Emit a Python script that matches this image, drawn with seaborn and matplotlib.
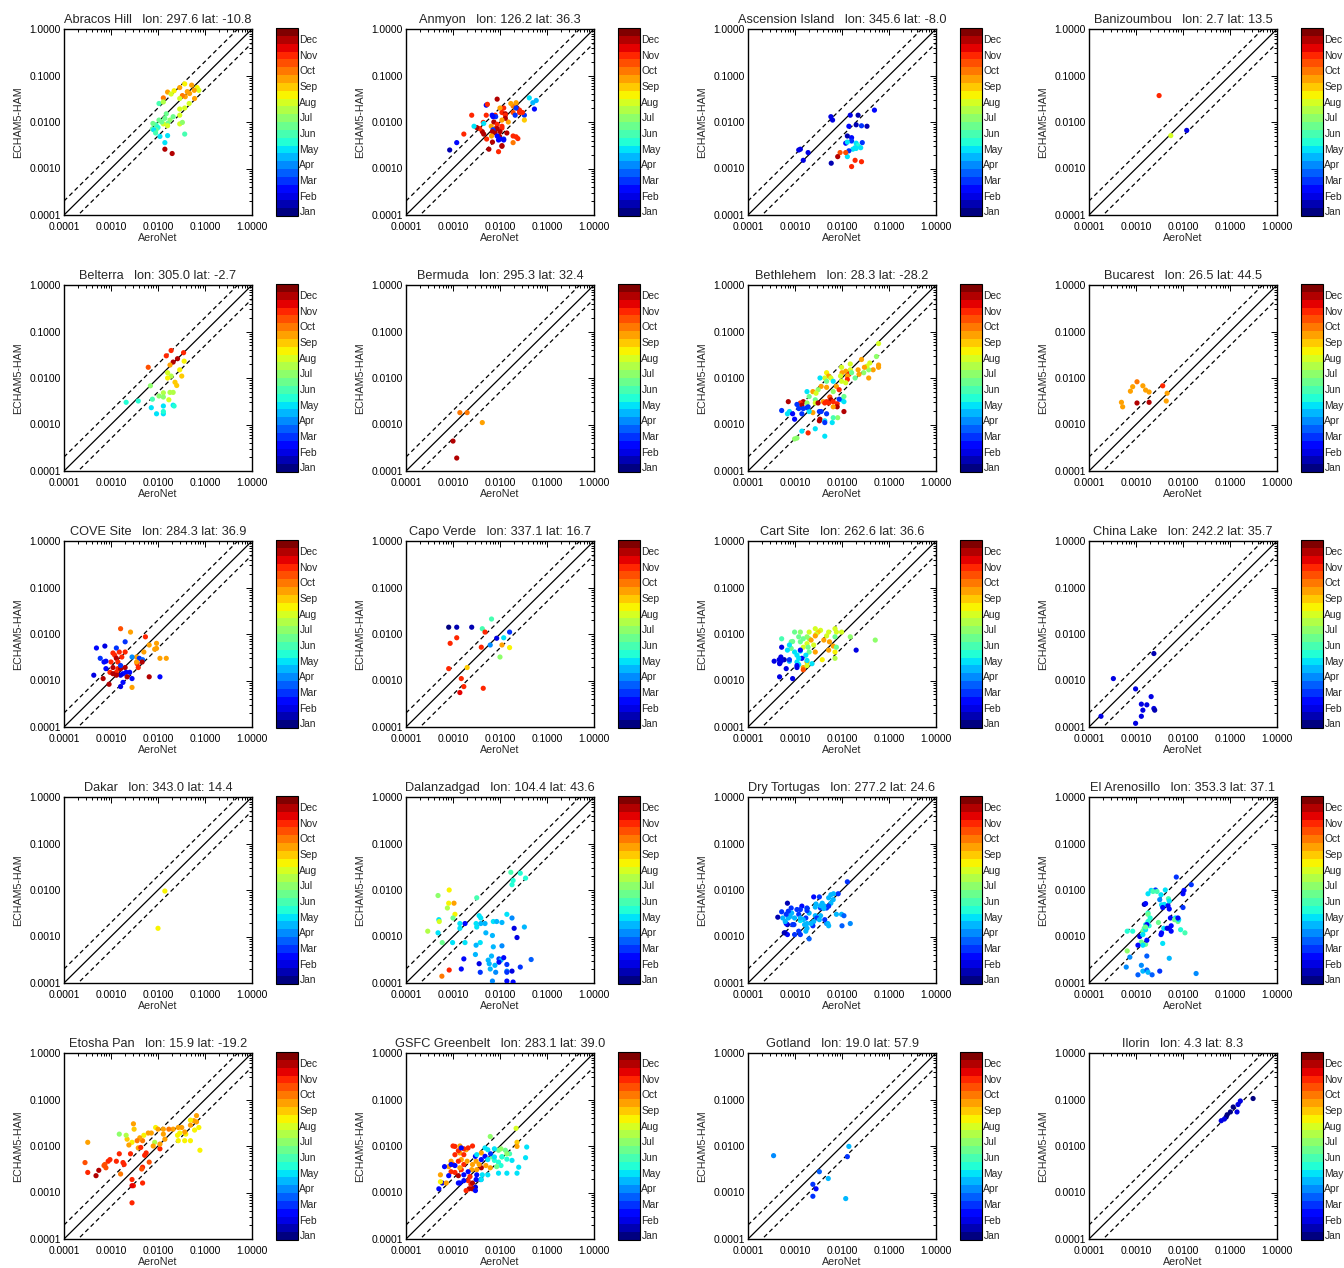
import numpy as np
import pandas as pd
import matplotlib
matplotlib.use("Agg")
import matplotlib.pyplot as plt
import seaborn as sns
from matplotlib.colors import Normalize
from matplotlib.cm import ScalarMappable
from matplotlib.ticker import FixedLocator, FormatStrFormatter, LogLocator, NullFormatter

sns.set_style("white")
plt.rcParams['font.family'] = ['Liberation Sans', 'DejaVu Sans']

# Station info
site_names = ['Abracos Hill', 'Anmyon', 'Ascension Island', 'Banizoumbou',
              'Belterra', 'Bermuda', 'Bethlehem', 'Bucarest',
              'COVE Site', 'Capo Verde', 'Cart Site', 'China Lake',
              'Dakar', 'Dalanzadgad', 'Dry Tortugas', 'El Arenosillo',
              'Etosha Pan', 'GSFC Greenbelt', 'Gotland', 'Ilorin']
site_lon = [297.6, 126.2, 345.6, 2.7, 305.0, 295.3, 28.3, 26.5, 284.3, 337.1,
            262.6, 242.2, 343.0, 104.4, 277.2, 353.3, 15.9, 283.1, 19.0, 4.3]
site_lat = [-10.8, 36.3, -8.0, 13.5, -2.7, 32.4, -28.2, 44.5, 36.9, 16.7,
            36.6, 35.7, 14.4, 43.6, 24.6, 37.1, -19.2, 39.0, 57.9, 8.3]
month_labels = ['Jan', 'Feb', 'Mar', 'Apr', 'May', 'Jun',
                'Jul', 'Aug', 'Sep', 'Oct', 'Nov', 'Dec']

# ---- per-station data: AeroNet (x), ECHAM5-HAM (y), month (colour) ----
abracos_x = [1.6e-2, 2.9e-2, 3.7e-2, 5.2e-2, 6.8e-2, 7.4e-2, 5.9e-2, 4.7e-2, 3.8e-2, 3.3e-2,
             4.2e-2, 2.2e-2, 1.9e-2, 1.3e-2, 1.05e-2, 1.3e-2, 2.9e-2, 4.6e-2, 3.7e-2, 2.9e-2,
             6.0e-2, 2.9e-2, 1.5e-2, 1.4e-2, 1.8e-2, 2.1e-2, 1.6e-2, 1.3e-2, 1.2e-2, 9.1e-3,
             7.6e-3, 7.8e-3, 1.05e-2, 1.0e-2, 9.1e-3, 2.9e-2, 3.3e-2, 1.6e-2, 8.1e-3, 1.1e-2,
             8.9e-3, 1.6e-2, 1.4e-2, 3.7e-2, 1.4e-2, 2.0e-2]
abracos_y = [4.4e-2, 5.5e-2, 6.6e-2, 6.2e-2, 5.5e-2, 4.8e-2, 4.8e-2, 4.1e-2, 3.5e-2, 3.7e-2,
             4.5e-2, 4.7e-2, 4.0e-2, 3.3e-2, 2.5e-2, 2.7e-2, 3.2e-2, 2.5e-2, 2.0e-2, 1.9e-2,
             3.2e-2, 1.4e-2, 1.5e-2, 1.2e-2, 1.1e-2, 1.3e-2, 9.3e-3, 9.1e-3, 1.0e-2, 8.7e-3,
             7.1e-3, 9.3e-3, 1.1e-2, 7.6e-3, 6.8e-3, 9.1e-3, 9.8e-3, 8.3e-3, 6.8e-3, 4.9e-3,
             5.8e-3, 5.1e-3, 3.6e-3, 5.5e-3, 2.6e-3, 2.1e-3]
abracos_m = [9.5, 9.5, 8.5, 9.5, 8.5, 8, 9.5, 9.5, 9.5, 10,
             9.5, 8.5, 8, 10, 6, 7.5, 8, 8, 8, 8,
             9.5, 8, 6.5, 6.5, 7, 6.5, 6.5, 8, 6.5, 6,
             6.5, 6.5, 6.5, 5.5, 6.5, 8, 7, 8, 5, 5,
             6, 5, 5, 6, 12, 12]

anmyon_x = [4.2e-2, 5.9e-2, 5.0e-2, 5.4e-2, 3.3e-2, 3.3e-2, 3.0e-2, 2.6e-2, 2.3e-2, 2.6e-2,
            1.9e-2, 1.7e-2, 2.2e-2, 1.9e-2, 2.2e-2, 2.1e-2, 1.5e-2, 1.9e-2, 2.2e-2, 1.9e-2,
            2.4e-2, 1.4e-2, 1.2e-2, 1.0e-2, 1.1e-2, 1.3e-2, 1.3e-2, 1.3e-2, 1.1e-2, 1.1e-2,
            1.1e-2, 1.0e-2, 9.8e-3, 1.2e-2, 1.1e-2, 8.7e-3, 7.9e-3, 8.1e-3, 7.1e-3, 7.4e-3,
            8.7e-3, 8.3e-3, 7.8e-3, 8.7e-3, 8.7e-3, 9.3e-3, 1.0e-2, 1.2e-2, 9.3e-3, 1.1e-2,
            6.5e-3, 7.1e-3, 6.8e-3, 5.1e-3, 5.4e-3, 5.1e-3, 4.4e-3, 4.5e-3, 5.2e-3, 6.9e-3,
            6.6e-3, 6.9e-3, 5.8e-3, 4.2e-3, 3.7e-3, 3.2e-3, 2.5e-3, 2.8e-3, 1.7e-3, 1.2e-3,
            8.5e-4, 4.5e-3]
anmyon_y = [3.3e-2, 2.9e-2, 2.6e-2, 1.9e-2, 1.4e-2, 1.1e-2, 1.6e-2, 1.6e-2, 2.0e-2, 1.8e-2,
            2.2e-2, 2.5e-2, 2.6e-2, 1.6e-2, 2.0e-2, 1.4e-2, 1.0e-2, 5.0e-3, 4.8e-3, 3.6e-3,
            4.4e-3, 5.8e-3, 2.0e-2, 2.0e-2, 1.6e-2, 1.5e-2, 1.4e-2, 1.2e-2, 1.1e-2, 8.1e-3,
            7.4e-3, 6.2e-3, 4.9e-3, 4.3e-3, 3.1e-3, 3.1e-2, 1.4e-2, 1.3e-2, 1.3e-2, 1.0e-2,
            8.9e-3, 7.2e-3, 5.9e-3, 7.2e-3, 5.0e-3, 4.1e-3, 4.3e-3, 4.1e-3, 2.3e-3, 3.0e-3,
            8.1e-3, 6.8e-3, 1.4e-2, 2.3e-2, 2.4e-2, 1.4e-2, 9.8e-3, 5.5e-3, 4.3e-3, 6.2e-3,
            5.0e-3, 3.7e-3, 2.6e-3, 6.2e-3, 7.2e-3, 7.6e-3, 1.4e-2, 8.1e-3, 5.5e-3, 3.6e-3,
            2.5e-3, 9.3e-3]
anmyon_m = [5, 4.5, 4.5, 2.5, 3, 9, 11, 11, 12, 11,
            10, 9.5, 9.5, 10.5, 3, 3, 9.5, 11, 11, 10,
            11, 12, 11, 9.5, 11, 12, 11, 12, 9.5, 11,
            11, 12, 12, 3, 12, 12, 11, 3, 2.5, 12,
            11, 11, 12, 12, 2.5, 2.5, 2.5, 2.5, 11, 12,
            9.5, 3, 2.5, 2.5, 11, 11, 11, 12, 11, 12,
            9.5, 12, 12, 12, 11, 12, 11, 5, 11, 2.5,
            1.5, 5]

ascension_x = [4.9e-2, 1.5e-2, 2.2e-2, 1.4e-2, 2.0e-2, 2.6e-2, 3.4e-2, 1.3e-2, 1.6e-2, 1.6e-2,
               1.2e-2, 2.7e-2, 1.3e-2, 2.0e-2, 2.2e-2, 1.9e-2, 1.7e-2, 2.0e-2, 2.5e-2, 1.4e-2,
               1.3e-2, 1.2e-2, 9.1e-3, 8.1e-3, 1.9e-2, 2.6e-2, 1.6e-2, 5.9e-3, 5.8e-3, 6.3e-3,
               1.9e-3, 1.3e-3, 1.2e-3, 1.5e-3]
ascension_y = [1.8e-2, 1.4e-2, 1.4e-2, 8.1e-3, 8.7e-3, 8.3e-3, 8.1e-3, 5.0e-3, 4.6e-3, 3.9e-3,
               3.5e-3, 3.6e-3, 3.7e-3, 3.5e-3, 3.1e-3, 2.8e-3, 2.6e-3, 2.7e-3, 2.8e-3, 2.4e-3,
               1.8e-3, 2.2e-3, 2.2e-3, 1.8e-3, 1.5e-3, 1.4e-3, 1.1e-3, 1.3e-3, 1.3e-2, 1.1e-2,
               2.2e-3, 2.6e-3, 2.5e-3, 1.5e-3]
ascension_m = [2.5, 2, 1.5, 2.5, 1.5, 3, 1.5, 1.5, 2.5, 3,
               2.5, 3, 5, 5, 5.5, 5, 5, 5, 5, 3,
               5, 10.5, 10.5, 12, 11, 11, 11, 1.5, 2, 2,
               2, 2, 2, 2]

banizoumbou_x = [3.1e-3, 5.5e-3, 1.2e-2]
banizoumbou_y = [3.7e-2, 5.1e-3, 6.6e-3]
banizoumbou_m = [11, 8, 2]

belterra_x = [6.2e-3, 1.5e-2, 1.9e-2, 2.6e-2, 3.5e-2, 2.1e-2, 1.8e-2, 3.6e-2, 2.9e-2, 1.6e-2,
              1.9e-2, 1.6e-2, 3.2e-2, 2.3e-2, 2.5e-2, 6.9e-3, 1.3e-2, 1.8e-2, 2.1e-2, 1.05e-2,
              7.6e-3, 1.7e-2, 1.3e-2, 2.1e-3, 3.8e-3, 7.2e-3, 1.3e-2, 2.1e-2, 2.2e-2, 9.3e-3,
              1.3e-2, 1.3e-2]
belterra_y = [1.7e-2, 3.0e-2, 3.9e-2, 2.6e-2, 3.5e-2, 2.2e-2, 1.9e-2, 2.3e-2, 1.5e-2, 1.3e-2,
              1.1e-2, 1.0e-2, 1.1e-2, 8.1e-3, 6.9e-3, 6.8e-3, 4.8e-3, 4.9e-3, 4.9e-3, 4.1e-3,
              3.5e-3, 3.4e-3, 3.9e-3, 3.0e-3, 3.2e-3, 2.3e-3, 2.5e-3, 2.6e-3, 2.5e-3, 1.7e-3,
              1.7e-3, 1.9e-3]
belterra_m = [10.5, 11, 11, 12, 11, 12, 9.5, 8.5, 8.5, 8,
              7.5, 8.5, 9, 9, 9, 7, 7.5, 7.5, 7.5, 7,
              6, 8, 7, 5.5, 5.5, 5, 5, 5, 5.5, 5,
              5, 5.5]

bermuda_x = [1.4e-3, 2.0e-3, 4.2e-3, 1.0e-3, 1.2e-3]
bermuda_y = [1.8e-3, 1.8e-3, 1.1e-3, 4.4e-4, 1.9e-4]
bermuda_m = [10, 10, 9.5, 12, 12]

bethlehem_x = [6.0e-2, 5.4e-2, 6.0e-2, 6.0e-2, 4.6e-2, 3.9e-2, 3.7e-2, 2.6e-2, 3.4e-2, 3.0e-2,
               3.7e-2, 2.9e-2, 2.2e-2, 2.3e-2, 1.5e-2, 1.5e-2, 1.2e-2, 1.4e-2, 1.3e-2, 1.3e-2,
               1.2e-2, 1.6e-2, 1.9e-2, 9.8e-3, 1.0e-2, 9.3e-3, 9.8e-3, 7.6e-3, 8.7e-3, 6.5e-3,
               5.5e-3, 4.7e-3, 5.2e-3, 4.3e-3, 5.8e-3, 3.4e-3, 4.7e-3, 6.5e-3, 3.6e-3, 4.7e-3,
               3.1e-3, 2.4e-3, 2.8e-3, 1.8e-3, 2.0e-3, 2.7e-3, 1.5e-3, 1.3e-3, 1.8e-3, 2.7e-3,
               4.0e-3, 4.7e-3, 5.8e-3, 5.2e-3, 4.3e-3, 6.5e-3, 7.9e-3, 9.8e-3, 1.1e-2, 8.7e-3,
               1.1e-2, 7.9e-3, 1.1e-2, 3.1e-3, 3.3e-3, 3.6e-3, 4.7e-3, 3.4e-3, 3.3e-3, 2.4e-3,
               4.3e-3, 6.2e-3, 8.1e-3, 6.5e-3, 4.3e-3, 1.4e-3, 1.8e-3, 1.5e-3, 1.2e-3, 7.6e-4,
               5.2e-4, 7.2e-4, 8.9e-4, 9.8e-4, 6.9e-4, 1.4e-3, 2.0e-3, 1.9e-3, 1.1e-3, 1.4e-3,
               1.9e-3, 2.7e-3, 4.3e-3, 9.8e-4, 1.1e-3, 6.5e-3]
bethlehem_y = [5.5e-2, 2.9e-2, 1.9e-2, 1.7e-2, 1.5e-2, 2.1e-2, 1.5e-2, 2.5e-2, 1.8e-2, 1.7e-2,
               1.0e-2, 1.3e-2, 1.5e-2, 1.2e-2, 2.0e-2, 1.5e-2, 1.4e-2, 1.2e-2, 1.1e-2, 9.3e-3,
               7.9e-3, 1.3e-2, 1.0e-2, 1.7e-2, 1.3e-2, 1.1e-2, 8.5e-3, 6.6e-3, 5.6e-3, 5.1e-3,
               3.9e-3, 1.3e-2, 1.1e-2, 1.0e-2, 1.0e-2, 1.0e-2, 8.5e-3, 8.5e-3, 6.6e-3, 6.3e-3,
               5.6e-3, 5.1e-3, 4.7e-3, 5.1e-3, 4.0e-3, 3.4e-3, 3.1e-3, 2.9e-3, 2.9e-3, 2.9e-3,
               3.1e-3, 3.1e-3, 3.4e-3, 2.9e-3, 2.9e-3, 3.1e-3, 2.8e-3, 3.4e-3, 3.1e-3, 3.5e-3,
               4.0e-3, 2.4e-3, 1.9e-3, 2.9e-3, 1.9e-3, 1.9e-3, 1.7e-3, 1.3e-3, 1.2e-3, 1.8e-3,
               1.2e-3, 1.1e-3, 1.4e-3, 1.4e-3, 1.1e-3, 2.6e-3, 2.3e-3, 2.2e-3, 2.2e-3, 1.9e-3,
               2.0e-3, 3.1e-3, 1.7e-3, 1.3e-3, 1.7e-3, 1.7e-3, 1.9e-3, 2.4e-3, 2.7e-3, 7.2e-4,
               6.6e-4, 8.1e-4, 5.6e-4, 4.9e-4, 5.1e-4, 2.4e-3]
bethlehem_m = [8, 7, 9.5, 9.5, 9.5, 8, 7, 9.5, 8, 9.5,
               9.5, 7, 9.5, 9.5, 8, 8, 9.5, 11, 9.5, 11,
               8, 6.5, 6.5, 8, 9.5, 8, 8, 9.5, 11, 7,
               10.5, 8.5, 9.5, 8, 8, 5, 6.5, 5, 9.5, 9.5,
               7, 9.5, 8, 5, 6.5, 6.5, 12, 11, 7, 8,
               9.5, 11, 12, 11, 11, 11, 11, 5, 5, 3,
               6.5, 12, 12, 12, 3, 3, 3, 12, 12, 9.5,
               5, 5, 7, 6, 3, 12, 3, 3, 3, 5,
               3, 12, 2.5, 2.5, 5, 3, 5, 3, 3, 5,
               11, 5, 5, 7, 7, 9.5]

bucarest_x = [4.9e-4, 5.2e-4, 7.6e-4, 8.5e-4, 1.05e-3, 1.4e-3, 1.6e-3, 1.9e-3, 1.05e-3, 1.9e-3,
              3.7e-3, 4.6e-3, 4.4e-3]
bucarest_y = [3.0e-3, 2.4e-3, 5.2e-3, 6.5e-3, 8.3e-3, 6.8e-3, 5.5e-3, 5.0e-3, 2.9e-3, 3.0e-3,
              6.8e-3, 4.7e-3, 3.2e-3]
bucarest_m = [9.5, 9.5, 9.5, 9.5, 10, 9.5, 9.5, 9.5, 12, 12, 11, 9.5, 9.5]

cove_x = [1.6e-3, 2.6e-3, 5.4e-3, 6.5e-3, 9.3e-3, 9.3e-3, 8.5e-3, 1.1e-2, 1.5e-2, 5.0e-3,
          3.5e-3, 2.8e-3, 2.0e-3, 2.0e-3, 1.7e-3, 1.5e-3, 1.1e-3, 1.2e-3, 1.3e-3, 1.0e-3,
          1.4e-3, 1.1e-3, 1.4e-3, 1.6e-3, 1.3e-3, 2.0e-3, 2.1e-3, 1.8e-3, 1.6e-3, 2.5e-3,
          2.2e-3, 2.8e-3, 9.5e-4, 1.1e-3, 1.3e-3, 1.3e-3, 1.6e-3, 7.8e-4, 7.1e-4, 7.8e-4,
          5.9e-4, 4.9e-4, 7.4e-4, 4.3e-4, 6.8e-4, 9.1e-4, 1.8e-3, 1.6e-3, 2.8e-3, 4.0e-3,
          3.6e-3, 3.5e-3, 4.7e-3, 3.8e-3, 4.6e-3, 6.5e-3, 1.1e-2]
cove_y = [1.3e-2, 1.1e-2, 8.7e-3, 5.8e-3, 6.3e-3, 4.9e-3, 4.7e-3, 3.0e-3, 3.0e-3, 4.1e-3,
          3.2e-3, 3.2e-3, 6.8e-3, 4.1e-3, 3.2e-3, 4.1e-3, 3.9e-3, 3.5e-3, 3.0e-3, 2.5e-3,
          2.5e-3, 1.9e-3, 1.8e-3, 1.8e-3, 1.5e-3, 1.9e-3, 1.5e-3, 1.4e-3, 1.3e-3, 1.5e-3,
          1.2e-3, 1.1e-3, 1.5e-3, 1.4e-3, 1.3e-3, 5.0e-3, 2.1e-3, 1.8e-3, 2.5e-3, 2.6e-3,
          3.0e-3, 5.0e-3, 5.5e-3, 1.3e-3, 1.1e-3, 8.3e-4, 9.1e-4, 7.4e-4, 7.1e-4, 3.0e-3,
          2.3e-3, 2.5e-3, 2.8e-3, 1.9e-3, 2.5e-3, 1.2e-3, 1.2e-3]
cove_m = [10.5, 9.5, 11, 9.5, 9.5, 9.5, 9.5, 9.5, 9.5, 9.5,
          9.5, 4, 3, 11, 11, 11, 11, 11, 12, 11,
          11, 12, 11, 12, 11, 12, 2.5, 2.5, 2, 2.5,
          12, 2.5, 11, 12, 12, 3, 3, 2.5, 2.5, 2.5,
          3, 2.5, 2, 2, 12, 12, 2.5, 2, 9.5, 3,
          11, 9.5, 3.5, 11, 12, 12, 2.5]

capoverde_x = [8.1e-4, 1.2e-3, 2.5e-3, 6.6e-3, 4.2e-3, 4.8e-3, 8.7e-4, 1.2e-3, 4.0e-3, 8.5e-3,
               6.2e-3, 1.2e-2, 1.6e-2, 1.1e-2, 1.6e-2, 1.0e-2, 2.0e-3, 8.1e-4, 1.5e-3, 1.7e-3,
               1.4e-3, 4.4e-3]
capoverde_y = [1.4e-2, 1.4e-2, 1.4e-2, 2.1e-2, 1.3e-2, 1.1e-2, 6.3e-3, 8.3e-3, 5.2e-3, 8.1e-3,
               5.8e-3, 8.3e-3, 1.1e-2, 5.8e-3, 5.1e-3, 3.2e-3, 1.9e-3, 1.8e-3, 1.1e-3, 7.4e-4,
               5.5e-4, 6.8e-4]
capoverde_m = [1, 1.5, 1.5, 6, 6, 11, 11, 11, 11, 2,
               4, 5, 3, 9.5, 8.5, 7, 9, 11, 11, 11,
               11.5, 11]

cart_x = [5.1e-2, 2.0e-2, 1.5e-2, 9.8e-3, 7.1e-3, 7.6e-3, 7.1e-3, 5.2e-3, 4.7e-3, 4.1e-3,
          5.4e-3, 6.5e-3, 5.2e-3, 3.8e-3, 7.1e-3, 7.1e-3, 7.6e-3, 3.5e-3, 3.1e-3, 2.7e-3,
          2.0e-3, 2.8e-3, 2.0e-3, 2.7e-3, 1.8e-3, 1.5e-3, 2.2e-3, 1.3e-3, 9.8e-4, 1.2e-3,
          8.9e-4, 1.3e-3, 1.8e-3, 1.5e-3, 1.9e-3, 2.5e-3, 2.7e-3, 2.0e-3, 1.7e-3, 1.3e-3,
          9.8e-4, 8.3e-4, 8.3e-4, 7.6e-4, 6.9e-4, 5.2e-4, 1.1e-3, 1.3e-3, 1.4e-3, 1.2e-3,
          1.1e-3, 1.2e-3, 1.5e-3, 1.8e-3, 1.8e-3, 1.5e-3, 2.3e-3, 1.8e-3, 1.1e-3, 1.1e-3,
          7.6e-4, 7.6e-4, 5.2e-4, 5.0e-4, 5.9e-4, 5.2e-4, 4.6e-4, 3.6e-4, 4.8e-4, 4.7e-4,
          6.5e-4, 4.7e-4, 8.9e-4]
cart_y = [7.4e-3, 4.5e-3, 8.7e-3, 1.1e-2, 1.3e-2, 1.1e-2, 8.7e-3, 1.1e-2, 9.1e-3, 7.4e-3,
          6.8e-3, 5.5e-3, 4.5e-3, 2.8e-3, 4.1e-3, 3.0e-3, 5.2e-3, 1.2e-2, 1.1e-2, 1.3e-2,
          1.1e-2, 9.8e-3, 7.9e-3, 9.1e-3, 8.7e-3, 7.9e-3, 7.4e-3, 1.1e-2, 1.1e-2, 8.7e-3,
          6.9e-3, 6.8e-3, 6.2e-3, 5.2e-3, 5.2e-3, 5.8e-3, 4.1e-3, 4.1e-3, 3.5e-3, 4.3e-3,
          4.1e-3, 4.9e-3, 6.8e-3, 5.8e-3, 4.5e-3, 7.9e-3, 3.5e-3, 4.5e-3, 3.0e-3, 3.0e-3,
          2.5e-3, 2.2e-3, 1.9e-3, 2.5e-3, 2.1e-3, 1.7e-3, 2.3e-3, 2.7e-3, 2.1e-3, 1.9e-3,
          2.6e-3, 2.8e-3, 5.2e-3, 3.2e-3, 2.8e-3, 2.7e-3, 2.8e-3, 2.6e-3, 2.4e-3, 2.3e-3,
          1.8e-3, 1.2e-3, 1.1e-3]
cart_m = [7, 2, 7, 8, 8, 8, 6.5, 8, 8, 9.5,
          9.5, 9.5, 9.5, 8.5, 8.5, 7.5, 6.5, 8, 9, 8,
          8, 8, 7, 9.5, 7, 6.5, 9.5, 7, 6.5, 6.5,
          6.5, 6.5, 8, 8, 6.5, 8, 9.5, 6.5, 5, 5,
          5, 6.5, 6.5, 5, 5, 6, 5, 2.5, 2.5, 5,
          5, 5, 9.5, 9.5, 8, 10.5, 5, 5, 2.5, 2,
          4.5, 3, 2, 2, 1.5, 2, 2, 2, 2, 2,
          2, 2, 2]

chinalake_x = [2.4e-3, 3.3e-4, 9.8e-4, 2.1e-3, 1.3e-3, 1.7e-3, 1.4e-3, 2.4e-3, 2.5e-3, 1.3e-3,
               9.8e-4, 1.8e-4]
chinalake_y = [3.8e-3, 1.1e-3, 6.6e-4, 4.5e-4, 3.1e-4, 3.0e-4, 2.3e-4, 2.5e-4, 2.3e-4, 1.7e-4,
               1.2e-4, 1.7e-4]
chinalake_m = [1.5, 2, 2, 2, 2, 2, 2, 2, 1.5, 2, 2, 2]

dakar_x = [1.4e-2, 1.0e-2]
dakar_y = [9.5e-3, 1.5e-3]
dakar_m = [8.5, 8.5]

dalanzadgad_x = [1.7e-2, 2.7e-2, 3.5e-2, 1.9e-2, 1.8e-2, 3.2e-3, 8.3e-4, 4.8e-4, 1.05e-3, 8.1e-4,
                 7.6e-4, 1.1e-3, 1.0e-3, 5.0e-4, 5.1e-4, 1.4e-3, 2.9e-4, 4.8e-4, 5.9e-4, 9.8e-4,
                 1.8e-3, 1.8e-3, 3.1e-3, 3.6e-3, 3.9e-3, 3.9e-3, 4.8e-3, 3.2e-3, 7.2e-3, 8.5e-3,
                 1.4e-2, 1.8e-2, 2.0e-2, 1.1e-2, 3.3e-2, 2.3e-2, 5.0e-3, 6.9e-3, 3.8e-3, 3.1e-3,
                 7.2e-3, 1.1e-2, 1.7e-3, 3.0e-3, 6.6e-3, 5.6e-3, 9.5e-3, 1.05e-2, 9.5e-3, 1.2e-2,
                 3.6e-3, 5.9e-3, 7.8e-3, 1.4e-2, 2.7e-2, 4.6e-2, 1.5e-3, 3.8e-3, 6.2e-3, 8.1e-3,
                 1.4e-2, 1.4e-2, 1.8e-2, 6.9e-3, 1.4e-2, 1.9e-2, 8.3e-4, 5.8e-4, 1.4e-3]
dalanzadgad_y = [2.4e-2, 2.3e-2, 1.8e-2, 1.6e-2, 1.3e-2, 6.8e-3, 1.0e-2, 7.6e-3, 5.2e-3, 5.2e-3,
                 4.1e-3, 3.0e-3, 2.5e-3, 2.3e-3, 2.1e-3, 1.5e-3, 1.3e-3, 1.2e-3, 7.4e-4, 7.4e-4,
                 1.9e-3, 7.4e-4, 1.9e-3, 2.8e-3, 2.5e-3, 1.9e-3, 1.9e-3, 1.6e-3, 2.1e-3, 2.1e-3,
                 3.0e-3, 2.5e-3, 1.5e-3, 2.0e-3, 1.6e-3, 9.5e-4, 1.2e-3, 1.05e-3, 7.4e-4, 6.5e-4,
                 6.0e-4, 6.3e-4, 3.3e-4, 4.1e-4, 3.8e-4, 3.1e-4, 3.3e-4, 3.1e-4, 2.8e-4, 3.5e-4,
                 2.6e-4, 2.6e-4, 2.4e-4, 2.5e-4, 2.2e-4, 3.2e-4, 2.0e-4, 1.7e-4, 2.0e-4, 1.7e-4,
                 1.8e-4, 1.7e-4, 1.8e-4, 1.1e-4, 1.1e-4, 1.05e-4, 1.9e-4, 1.4e-4, 1.9e-3]
dalanzadgad_m = [6, 5.5, 5.5, 5.5, 5.5, 6, 8.5, 7, 9.5, 8.5,
                 7.5, 8.5, 6.5, 5, 8, 5, 7.5, 5, 6.5, 5,
                 2.5, 5, 5, 5, 5, 4.5, 4.5, 5, 5, 4.5,
                 5, 4, 2, 4.5, 4.5, 2, 4.5, 4.5, 5, 4.5,
                 4.5, 4, 2.5, 4.5, 4.5, 4.5, 3, 4.5, 2.5, 2.5,
                 2, 4.5, 4.5, 3, 3, 3.5, 2.5, 3, 4.5, 4,
                 4, 3, 2, 4, 2.5, 2.5, 11, 10, 5]

drytortugas_x = [1.3e-2, 8.3e-3, 6.6e-3, 5.8e-3, 5.2e-3, 6.5e-3, 9.8e-3, 1.1e-2, 1.5e-2, 1.0e-2,
                 4.7e-3, 4.3e-3, 4.7e-3, 5.2e-3, 4.3e-3, 3.5e-3, 2.5e-3, 3.3e-3, 3.5e-3, 2.7e-3,
                 2.7e-3, 2.9e-3, 3.3e-3, 2.5e-3, 2.4e-3, 2.2e-3, 1.8e-3, 2.0e-3, 1.8e-3, 1.7e-3,
                 1.5e-3, 1.3e-3, 1.6e-3, 1.8e-3, 1.7e-3, 1.3e-3, 2.0e-3, 1.8e-3, 1.8e-3, 1.4e-3,
                 1.3e-3, 1.2e-3, 1.3e-3, 9.8e-4, 1.1e-3, 8.3e-4, 8.5e-4, 7.9e-4, 7.2e-4, 6.5e-4,
                 5.5e-4, 5.2e-4, 7.2e-4, 6.9e-4, 9.5e-4, 9.8e-4, 1.2e-3, 8.9e-4, 6.9e-4, 6.5e-4,
                 6.2e-4, 6.9e-4, 5.9e-4, 4.3e-4, 6.2e-4, 2.8e-3, 3.5e-3, 3.8e-3, 5.8e-3, 5.2e-3,
                 7.6e-3, 5.0e-3, 4.1e-3]
drytortugas_y = [1.5e-2, 8.3e-3, 8.3e-3, 7.9e-3, 6.8e-3, 6.2e-3, 3.0e-3, 2.8e-3, 1.9e-3, 1.7e-3,
                 4.1e-3, 4.5e-3, 1.9e-3, 1.7e-3, 2.3e-3, 2.8e-3, 7.1e-3, 7.1e-3, 4.1e-3, 4.3e-3,
                 2.8e-3, 2.5e-3, 2.3e-3, 2.1e-3, 1.7e-3, 1.9e-3, 1.9e-3, 3.2e-3, 4.0e-3, 2.5e-3,
                 2.3e-3, 2.2e-3, 1.8e-3, 1.5e-3, 1.3e-3, 1.1e-3, 8.9e-4, 4.1e-3, 3.6e-3, 4.5e-3,
                 3.8e-3, 3.0e-3, 2.5e-3, 2.5e-3, 3.8e-3, 4.1e-3, 3.2e-3, 2.7e-3, 2.5e-3, 3.0e-3,
                 2.5e-3, 3.4e-3, 3.5e-3, 5.2e-3, 1.8e-3, 1.1e-3, 1.3e-3, 1.8e-3, 1.8e-3, 1.9e-3,
                 1.2e-3, 1.1e-3, 1.2e-3, 2.6e-3, 2.1e-3, 5.0e-3, 4.6e-3, 5.2e-3, 5.2e-3, 4.5e-3,
                 3.0e-3, 1.9e-3, 4.0e-3]
drytortugas_m = [3, 3, 4.5, 4.5, 4.5, 4.5, 4.5, 3.5, 4, 3.5,
                 3, 4.5, 4, 4.5, 3, 4.5, 2.5, 3, 3, 4.5,
                 4.5, 3, 4.5, 4.5, 3, 4.5, 4.5, 4.5, 4.5, 3,
                 4.5, 5, 4.5, 4.5, 4.5, 3, 3.5, 3, 3, 2.5,
                 3, 3, 4.5, 4.5, 3, 3, 4.5, 4.5, 4.5, 3,
                 4.5, 3, 3, 1.5, 3, 3, 3, 3, 1.5, 2.5,
                 2.5, 2.5, 1.5, 1.5, 4.5, 4.5, 4.5, 4.5, 4.5, 3,
                 4.5, 4.5, 4.5]

arenosillo_x = [7.2e-3, 1.5e-2, 1.05e-2, 1.0e-2, 2.6e-3, 4.2e-3, 3.4e-3, 3.2e-3, 4.9e-3, 4.0e-3,
                3.5e-3, 3.7e-3, 4.8e-3, 5.1e-3, 5.4e-3, 6.9e-3, 6.6e-3, 7.8e-3, 8.1e-3, 5.6e-3,
                5.1e-3, 3.5e-3, 3.9e-3, 4.6e-3, 5.6e-3, 3.4e-3, 3.7e-3, 8.9e-3, 1.1e-2, 2.1e-3,
                2.3e-3, 1.8e-3, 1.5e-3, 1.6e-3, 1.8e-3, 1.8e-3, 2.0e-3, 1.8e-3, 1.6e-3, 1.5e-3,
                1.4e-3, 1.6e-3, 1.9e-3, 1.7e-3, 1.6e-3, 1.2e-3, 1.4e-3, 1.3e-3, 1.6e-3, 1.4e-3,
                1.7e-3, 1.1e-3, 8.5e-4, 6.5e-4, 6.5e-4, 7.4e-4, 6.2e-4, 1.3e-3, 1.4e-3, 1.1e-3,
                1.7e-3, 1.8e-3, 2.2e-3, 3.2e-3, 1.7e-3, 3.0e-3, 5.1e-3, 1.9e-2, 1.0e-2, 2.8e-3,
                5.1e-3, 7.8e-3]
arenosillo_y = [1.9e-2, 1.3e-2, 9.8e-3, 8.3e-3, 1.0e-2, 1.0e-2, 7.9e-3, 6.2e-3, 6.5e-3, 4.9e-3,
                4.8e-3, 4.2e-3, 4.6e-3, 3.9e-3, 2.5e-3, 2.5e-3, 2.3e-3, 2.1e-3, 2.3e-3, 1.7e-3,
                1.5e-3, 1.2e-3, 1.5e-3, 1.5e-3, 1.3e-3, 1.1e-3, 7.1e-4, 1.4e-3, 1.2e-3, 9.8e-3,
                9.3e-3, 8.3e-3, 4.9e-3, 5.1e-3, 3.2e-3, 3.0e-3, 2.5e-3, 2.1e-3, 1.8e-3, 1.5e-3,
                1.3e-3, 1.4e-3, 1.7e-3, 1.8e-3, 1.6e-3, 1.0e-3, 1.1e-3, 7.6e-4, 6.8e-4, 6.5e-4,
                8.3e-4, 6.5e-4, 1.3e-3, 1.3e-3, 4.9e-4, 3.6e-4, 2.2e-4, 2.4e-4, 1.8e-4, 1.5e-4,
                1.9e-4, 1.7e-4, 1.5e-4, 1.8e-4, 3.8e-4, 2.0e-3, 3.4e-4, 1.6e-4, 4.2e-3, 9.3e-3,
                5.8e-3, 2.5e-3]
arenosillo_m = [3, 3, 2.5, 2.5, 3, 5, 5, 4, 6, 5,
                5, 2.5, 2.5, 2.5, 2.5, 5, 6.5, 6.5, 5, 2.5,
                2.5, 2.5, 5, 2, 2.5, 2.5, 5, 5.5, 6, 5,
                6, 5, 1.5, 2.5, 5.5, 6.5, 5.5, 5.5, 5.5, 6,
                6.5, 5, 5.5, 2.5, 6.5, 2, 5, 6.5, 6.5, 5,
                2.5, 2.5, 5.5, 5.5, 7, 4, 4, 4, 4.5, 3.5,
                3.5, 4.5, 3.5, 3, 3.5, 6.5, 4.5, 4, 3, 6,
                5, 2.5]

etosha_x = [6.6e-2, 5.8e-2, 4.9e-2, 6.6e-2, 4.9e-2, 7.4e-2, 6.0e-2, 3.9e-2, 3.2e-2, 3.7e-2,
            2.7e-2, 2.1e-2, 2.6e-2, 3.7e-2, 2.7e-2, 1.3e-2, 1.4e-2, 1.3e-2, 1.7e-2, 8.9e-3,
            1.0e-2, 7.2e-3, 6.2e-3, 5.0e-3, 4.7e-3, 4.1e-3, 8.5e-3, 1.1e-2, 7.9e-3, 1.1e-2,
            3.0e-3, 3.1e-3, 2.8e-3, 2.2e-3, 2.4e-3, 1.5e-3, 2.1e-3, 3.8e-3, 3.6e-3, 4.3e-3,
            5.6e-3, 5.2e-3, 6.5e-3, 2.6e-3, 4.7e-3, 4.5e-3, 1.5e-3, 1.3e-3, 9.5e-4, 8.7e-4,
            7.4e-4, 7.1e-4, 7.8e-4, 5.5e-4, 4.8e-4, 3.2e-4, 2.8e-4, 3.2e-4, 1.8e-3, 1.9e-3,
            1.6e-3, 2.8e-3, 3.0e-3, 2.8e-3, 4.7e-3, 2.8e-3, 7.8e-2, 4.9e-2, 2.9e-2]
etosha_y = [4.5e-2, 3.5e-2, 3.6e-2, 3.3e-2, 2.8e-2, 2.5e-2, 2.2e-2, 1.8e-2, 2.5e-2, 2.0e-2,
            2.5e-2, 2.3e-2, 1.7e-2, 1.3e-2, 1.3e-2, 1.8e-2, 1.4e-2, 2.3e-2, 2.3e-2, 2.5e-2,
            2.3e-2, 1.9e-2, 1.9e-2, 1.7e-2, 1.3e-2, 1.5e-2, 1.2e-2, 8.7e-3, 1.0e-2, 1.1e-2,
            3.0e-2, 2.3e-2, 1.2e-2, 1.4e-2, 1.05e-2, 1.8e-2, 1.7e-2, 9.1e-3, 1.3e-2, 9.3e-3,
            7.1e-3, 6.3e-3, 4.5e-3, 6.8e-3, 3.5e-3, 3.2e-3, 6.8e-3, 4.7e-3, 5.1e-3, 4.7e-3,
            4.0e-3, 3.8e-3, 3.4e-3, 3.0e-3, 2.3e-3, 2.7e-3, 4.4e-3, 1.2e-2, 4.4e-3, 4.0e-3,
            2.5e-3, 1.9e-3, 1.4e-3, 1.4e-3, 1.6e-3, 6.0e-4, 8.1e-3, 1.3e-2, 1.9e-2]
etosha_m = [9.5, 9.5, 8.5, 9.5, 9.5, 8.5, 8.5, 8.5, 9.5, 9.5,
            9.5, 9.5, 8.5, 8.5, 8.5, 9.5, 9.5, 9.5, 10, 8.5,
            9.5, 9.5, 9.5, 8.5, 10, 9.5, 7.5, 11, 9.5, 9.5,
            9.5, 9, 8.5, 9, 9.5, 7, 7.5, 9.5, 10, 11,
            11, 11, 10.5, 11, 11, 10.5, 11, 11, 11, 11,
            10.5, 10.5, 10.5, 12, 12, 11, 10.5, 9.5, 11, 11,
            10, 11, 11, 11.5, 11, 11, 8.5, 8.5, 8.5]

gsfc_x = [2.2e-2, 6.2e-3, 3.7e-2, 2.3e-2, 2.3e-2, 3.5e-2, 2.3e-2, 2.5e-2, 1.8e-2, 1.4e-2,
          1.6e-2, 1.3e-2, 1.4e-2, 1.1e-2, 9.3e-3, 1.05e-2, 8.5e-3, 7.6e-3, 6.8e-3, 9.3e-3,
          1.05e-2, 7.6e-3, 5.5e-3, 4.8e-3, 4.0e-3, 6.3e-3, 4.8e-3, 5.5e-3, 6.2e-3, 5.0e-3,
          4.0e-3, 3.2e-3, 3.6e-3, 3.1e-3, 3.0e-3, 3.2e-3, 4.0e-3, 2.6e-3, 2.5e-3, 2.1e-3,
          2.3e-3, 2.1e-3, 2.4e-3, 2.6e-3, 3.0e-3, 3.2e-3, 4.2e-3, 3.9e-3, 3.1e-3, 2.6e-3,
          2.2e-3, 1.9e-3, 3.0e-3, 1.7e-3, 1.4e-3, 1.7e-3, 1.5e-3, 1.4e-3, 1.1e-3, 1.3e-3,
          1.7e-3, 2.0e-3, 1.5e-3, 1.3e-3, 1.0e-3, 9.1e-4, 8.1e-4, 9.1e-4, 1.1e-3, 1.4e-3,
          1.7e-3, 1.9e-3, 1.7e-3, 1.3e-3, 1.0e-3, 1.1e-3, 1.4e-3, 2.6e-3, 2.1e-3, 1.5e-3,
          1.1e-3, 9.1e-4, 6.6e-4, 8.1e-4, 5.9e-4, 1.3e-3, 7.2e-4, 5.4e-4, 5.4e-4, 5.0e-4,
          4.0e-3, 5.5e-3, 9.3e-3, 1.4e-2, 7.6e-3, 1.1e-2]
gsfc_y = [2.4e-2, 1.6e-2, 9.5e-3, 1.2e-2, 9.8e-3, 5.6e-3, 2.6e-3, 3.5e-3, 4.9e-3, 5.2e-3,
          6.8e-3, 8.1e-3, 6.8e-3, 5.8e-3, 4.5e-3, 3.8e-3, 3.6e-3, 4.9e-3, 5.8e-3, 8.1e-3,
          8.7e-3, 8.7e-3, 8.3e-3, 9.1e-3, 7.1e-3, 6.8e-3, 6.0e-3, 5.1e-3, 3.4e-3, 3.8e-3,
          3.4e-3, 3.1e-3, 4.0e-3, 4.7e-3, 6.0e-3, 6.5e-3, 5.1e-3, 4.0e-3, 3.1e-3, 2.8e-3,
          2.2e-3, 1.8e-3, 1.5e-3, 1.6e-3, 1.3e-3, 2.4e-3, 2.4e-3, 1.9e-3, 1.9e-3, 1.2e-3,
          1.2e-3, 1.1e-3, 1.1e-3, 1.8e-3, 1.6e-3, 2.4e-3, 3.1e-3, 3.4e-3, 2.7e-3, 2.3e-3,
          4.0e-3, 4.7e-3, 5.1e-3, 4.7e-3, 4.0e-3, 2.8e-3, 3.6e-3, 4.7e-3, 6.5e-3, 7.1e-3,
          6.5e-3, 8.3e-3, 8.7e-3, 7.9e-3, 1.0e-2, 9.8e-3, 1.0e-2, 1.0e-2, 9.1e-3, 9.1e-3,
          3.8e-3, 4.0e-3, 3.6e-3, 2.3e-3, 1.6e-3, 1.6e-3, 1.6e-3, 2.4e-3, 1.7e-3, 1.2e-3,
          1.9e-3, 2.4e-3, 2.6e-3, 2.6e-3, 5.8e-3, 5.9e-3]
gsfc_m = [8, 7, 5, 9, 9.5, 5, 5, 5, 5, 5.5,
          6, 6.5, 7, 6.5, 5.5, 5.5, 6.5, 5.5, 6.5, 6.5,
          7, 5, 5, 5, 9.5, 3, 2.5, 5, 9.5, 9.5,
          12, 9.5, 9.5, 9.5, 2.5, 5, 2.5, 9.5, 9.5, 2.5,
          11, 11, 11, 12, 2, 2.5, 5, 2.5, 2.5, 12,
          12, 11, 2.5, 2.5, 2.5, 2.5, 11, 9.5, 11, 12,
          11, 9.5, 9.5, 11, 11, 11, 9.5, 9.5, 11, 9.5,
          11, 9.5, 11, 11, 11, 11, 9.5, 11, 11, 2.5,
          2.5, 2.5, 2.5, 2.5, 2, 2.5, 9.5, 9.5, 8.5, 2.5,
          5, 5, 5, 5, 5, 5.5]

gotland_x = [3.5e-4, 3.3e-3, 1.4e-2, 1.3e-2, 2.4e-3, 2.8e-3, 2.4e-3, 5.1e-3, 1.2e-2]
gotland_y = [6.2e-3, 2.8e-3, 9.8e-3, 5.9e-3, 1.5e-3, 1.2e-3, 8.3e-4, 2.0e-3, 7.4e-4]
gotland_m = [4, 3.5, 4.5, 3, 3, 2.5, 3, 4.5, 4.5]

ilorin_x = [0.31, 0.166, 0.148, 0.117, 0.141, 0.102, 0.083, 0.065, 0.076, 0.087]
ilorin_y = [0.105, 0.093, 0.078, 0.069, 0.054, 0.054, 0.042, 0.035, 0.038, 0.047]
ilorin_m = [1, 2, 2, 1, 2, 1, 1, 2, 2, 1]

site_x = [abracos_x, anmyon_x, ascension_x, banizoumbou_x, belterra_x, bermuda_x,
          bethlehem_x, bucarest_x, cove_x, capoverde_x, cart_x, chinalake_x, dakar_x,
          dalanzadgad_x, drytortugas_x, arenosillo_x, etosha_x, gsfc_x, gotland_x, ilorin_x]
site_y = [abracos_y, anmyon_y, ascension_y, banizoumbou_y, belterra_y, bermuda_y,
          bethlehem_y, bucarest_y, cove_y, capoverde_y, cart_y, chinalake_y, dakar_y,
          dalanzadgad_y, drytortugas_y, arenosillo_y, etosha_y, gsfc_y, gotland_y, ilorin_y]
site_m = [abracos_m, anmyon_m, ascension_m, banizoumbou_m, belterra_m, bermuda_m,
          bethlehem_m, bucarest_m, cove_m, capoverde_m, cart_m, chinalake_m, dakar_m,
          dalanzadgad_m, drytortugas_m, arenosillo_m, etosha_m, gsfc_m, gotland_m, ilorin_m]

# 1:1 line and factor-2 envelope
ref = np.array([1e-4, 1.0])

# ---- layout in pixels ----
W, H = 1344, 1268
col_left = [64, 406, 748, 1089]
row_top = [29, 285, 541, 797, 1053]
ax_w, ax_h = 188, 186
cb_off, cb_w = 212, 22

cmap = plt.get_cmap('jet', 24)
norm = Normalize(vmin=0.7, vmax=12.7)

fig = plt.figure(figsize=(W / 100, H / 100), dpi=100)

for i, name in enumerate(site_names):
    r, c = divmod(i, 4)
    left, top = col_left[c], row_top[r]
    ax = fig.add_axes([left / W, 1 - (top + ax_h) / H, ax_w / W, ax_h / H])

    df = pd.DataFrame({'AeroNet': site_x[i], 'ECHAM5-HAM': site_y[i], 'month': site_m[i]})
    sns.scatterplot(data=df, x='AeroNet', y='ECHAM5-HAM', hue='month', palette=cmap,
                    hue_norm=norm, s=14, linewidth=0, legend=False, ax=ax, zorder=3)

    ax.plot(ref, ref, color='k', lw=0.9, zorder=2)
    ax.plot(ref, ref * 2, color='k', lw=0.9, ls=(0, (3.5, 2.5)), zorder=2)
    ax.plot(ref, ref / 2, color='k', lw=0.9, ls=(0, (3.5, 2.5)), zorder=2)

    ax.set_xscale('log')
    ax.set_yscale('log')
    ax.set_xlim(1e-4, 1.0)
    ax.set_ylim(1e-4, 1.0)
    for axis in (ax.xaxis, ax.yaxis):
        axis.set_major_locator(FixedLocator([1e-4, 1e-3, 1e-2, 1e-1, 1.0]))
        axis.set_major_formatter(FormatStrFormatter('%.4f'))
        axis.set_minor_locator(LogLocator(base=10, subs=np.arange(2, 10)))
        axis.set_minor_formatter(NullFormatter())
    ax.tick_params(which='both', direction='in', top=True, right=True,
                   colors='k', labelsize=7.4, width=0.7)
    ax.tick_params(which='major', length=4, pad=2.5)
    ax.tick_params(axis='x', which='major', pad=5)
    ax.tick_params(which='minor', length=2)
    for sp in ax.spines.values():
        sp.set_color('k')
        sp.set_linewidth(1.0)

    ax.set_xlabel('AeroNet', fontsize=7.7, labelpad=1)
    ax.set_ylabel('ECHAM5-HAM', fontsize=7.7, labelpad=4)
    ax.set_title(f'{name}   lon: {site_lon[i]:.1f} lat: {site_lat[i]:.1f}',
                 fontsize=9.2, pad=4)

    cax = fig.add_axes([(left + cb_off) / W, 1 - (top + ax_h + 1) / H, cb_w / W, (ax_h + 2) / H])
    cb = fig.colorbar(ScalarMappable(norm=norm, cmap=cmap), cax=cax)
    cb.set_ticks(np.arange(1, 13))
    cb.set_ticklabels(month_labels)
    cb.ax.tick_params(length=0, labelsize=7.4, pad=1)
    cb.outline.set_linewidth(0.8)
    cb.outline.set_edgecolor('k')

fig.savefig('out.png', dpi=100)
